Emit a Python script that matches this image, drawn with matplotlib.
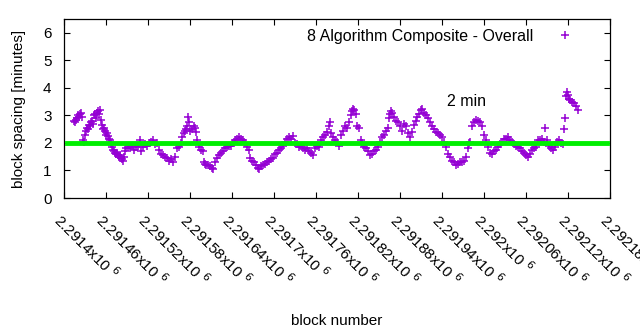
import matplotlib
matplotlib.use("Agg")
import matplotlib.pyplot as plt
import numpy as np

plt.rcParams["font.family"] = ["Liberation Sans", "DejaVu Sans"]

BASE_BLOCK = 2291400

# block offsets from BASE_BLOCK and block spacing in minutes
block_offset = [
    14, 16, 17, 19, 20, 21, 23, 24, 26, 27, 29, 30, 31, 33, 34, 36, 37, 39, 40, 41,
    43, 44, 46, 47, 49, 50, 51, 53, 54, 56, 57, 59, 60, 61, 63, 64, 66, 67, 69, 70,
    71, 73, 74, 76, 77, 79, 80, 81, 83, 84, 86, 87, 89, 91, 94, 97, 100, 103, 106, 109,
    110, 113, 116, 119, 121, 124, 127, 130, 133, 136, 139, 141, 144, 147, 150, 153, 156, 159, 161, 164,
    167, 169, 171, 173, 174, 176, 177, 179, 180, 183, 186, 187, 189, 190, 193, 196, 199, 200, 201, 203,
    206, 209, 211, 213, 216, 219, 221, 224, 227, 230, 233, 236, 239, 241, 244, 247, 250, 253, 256, 259,
    261, 264, 266, 269, 271, 274, 277, 279, 281, 284, 287, 290, 293, 296, 299, 301, 304, 307, 310, 313,
    316, 319, 321, 324, 327, 330, 333, 336, 339, 341, 344, 347, 350, 353, 356, 359, 361, 364, 367, 370,
    373, 376, 379, 380, 381, 384, 387, 390, 393, 396, 399, 401, 404, 407, 410, 411, 413, 414, 417, 419,
    421, 424, 426, 429, 431, 434, 437, 440, 443, 446, 449, 451, 454, 457, 460, 463, 464, 466, 467, 469,
    471, 474, 477, 480, 483, 486, 489, 491, 494, 497, 500, 503, 504, 507, 510, 511, 514, 517, 520, 523,
    526, 529, 531, 534, 537, 540, 543, 546, 549, 551, 554, 557, 560, 563, 566, 569, 571, 574, 577, 579,
    580, 583, 586, 589, 591, 594, 597, 600, 603, 606, 609, 611, 614, 617, 620, 623, 626, 629, 631, 634,
    637, 640, 643, 646, 649, 651, 654, 657, 660, 663, 666, 669, 671, 674, 677, 680, 683, 686, 687, 690,
    693, 696, 699, 701, 704, 707, 710, 713, 714, 716, 717, 719, 720, 721, 723, 726, 729, 731, 734,
]
spacing = [
    2.8, 2.75, 2.85, 2.9, 3.0, 2.95, 3.05, 3.1, 2.95, 2.1, 2.05, 2.3, 2.45, 2.55, 2.5, 2.65, 2.6, 2.75, 2.8, 2.7,
    3.0, 3.05, 2.9, 3.1, 3.15, 3.05, 3.2, 2.85, 2.65, 2.5, 2.55, 2.45, 2.3, 2.35, 2.25, 2.15, 2.1, 1.95, 1.85, 1.75,
    1.7, 1.65, 1.6, 1.65, 1.55, 1.5, 1.55, 1.45, 1.4, 1.35, 1.5, 1.7, 1.8, 1.85, 1.8, 1.9, 1.75, 1.85, 1.9, 2.1,
    1.7, 1.85, 1.95, 1.9, 2.0, 2.05, 2.1, 1.95, 2.0, 1.75, 1.6, 1.55, 1.5, 1.45, 1.35, 1.4, 1.3, 1.5, 1.8, 1.85,
    2.0, 2.2, 2.35, 2.45, 2.5, 2.6, 2.95, 2.75, 2.45, 2.5, 2.6, 2.55, 2.4, 2.1, 1.85, 1.75, 1.7, 1.3, 1.25, 1.2,
    1.2, 1.15, 1.1, 1.05, 1.3, 1.45, 1.55, 1.65, 1.7, 1.8, 1.85, 1.9, 1.9, 2.0, 2.1, 2.15, 2.2, 2.15, 2.1, 2.0,
    1.85, 1.75, 1.45, 1.35, 1.3, 1.2, 1.1, 1.05, 1.15, 1.2, 1.25, 1.3, 1.35, 1.4, 1.45, 1.6, 1.65, 1.75, 1.8, 1.9,
    2.05, 2.15, 2.2, 2.15, 2.25, 2.0, 1.95, 1.85, 1.9, 1.8, 1.75, 1.8, 1.7, 1.65, 1.55, 1.8, 1.9, 1.85, 2.1, 2.2,
    2.3, 2.4, 2.6, 2.75, 2.35, 2.2, 2.1, 2.05, 1.9, 2.3, 2.45, 2.6, 2.55, 2.75, 3.0, 3.15, 3.25, 3.2, 3.05, 2.6,
    2.55, 2.1, 2.0, 1.85, 1.8, 1.7, 1.55, 1.6, 1.7, 1.75, 1.85, 2.05, 2.2, 2.3, 2.45, 2.55, 2.9, 3.05, 3.15, 3.1,
    2.95, 2.8, 2.75, 2.6, 2.45, 2.7, 2.6, 2.35, 2.2, 2.4, 2.65, 2.8, 2.95, 3.05, 3.2, 3.25, 3.1, 3.0, 2.9, 2.75,
    2.6, 2.5, 2.4, 2.35, 2.3, 2.2, 2.05, 1.85, 1.6, 1.5, 1.35, 1.3, 1.2, 1.25, 1.3, 1.3, 1.35, 1.5, 1.8, 2.0,
    2.05, 2.6, 2.75, 2.85, 2.8, 2.75, 2.6, 2.3, 2.1, 1.85, 1.65, 1.6, 1.7, 1.75, 1.85, 1.95, 2.05, 2.15, 2.15, 2.2,
    2.1, 2.05, 1.95, 1.9, 1.85, 1.8, 1.7, 1.65, 1.55, 1.5, 1.6, 1.75, 1.8, 1.85, 2.1, 2.1, 2.15, 2.05, 2.55, 2.1,
    1.9, 1.8, 1.75, 1.85, 2.05, 2.1, 2.0, 1.95, 2.5, 2.9, 3.7, 3.85, 3.75, 3.6, 3.55, 3.5, 3.45, 3.35, 3.2,
]

x_min, x_max, x_step = 2291400, 2292180, 60
target_minutes = 2

blocks = np.array(block_offset) + BASE_BLOCK

fig = plt.figure(figsize=(6.4, 3.3), dpi=100)
ax = fig.add_axes([0.1, 0.4, 0.853, 0.542])

ax.plot(blocks, spacing, linestyle="none", marker="+", markersize=6,
        markeredgewidth=1.1, color="#9400D3",
        label="8 Algorithm Composite - Overall")
ax.axhline(target_minutes, xmin=0.005, xmax=0.995, color="#00EE00", linewidth=3.5,
           zorder=3)
ax.text(0.737, 0.54, "2 min", transform=ax.transAxes, fontsize=11.5,
        ha="center", va="center")

ax.set_xlim(x_min, x_max)
ax.set_ylim(0, 6.5)
ax.set_yticks(range(0, 7))
xt = np.arange(x_min, x_max + 1, x_step)
ax.set_xticks(xt)
ax.set_xticklabels([f"{v / 1e6:g}x10 $^{{6}}$" for v in xt], rotation=-45,
                   ha="left", va="top", rotation_mode="anchor")
ax.tick_params(direction="in", length=4.5, top=True, right=True,
               labelsize=11, width=0.8)
ax.tick_params(axis="x", pad=9)
ax.tick_params(axis="y", pad=9)
for s in ax.spines.values():
    s.set_linewidth(0.9)

ax.set_xlabel("block number", fontsize=11, labelpad=18)
ax.set_ylabel("block spacing [minutes]", fontsize=11, labelpad=12)

leg = ax.legend(loc="upper right", bbox_to_anchor=(0.971, 1.01), frameon=False,
                fontsize=11.5, markerfirst=False, handlelength=2.2,
                handletextpad=0.9, borderaxespad=0.3)

fig.savefig("out.png", dpi=100)
